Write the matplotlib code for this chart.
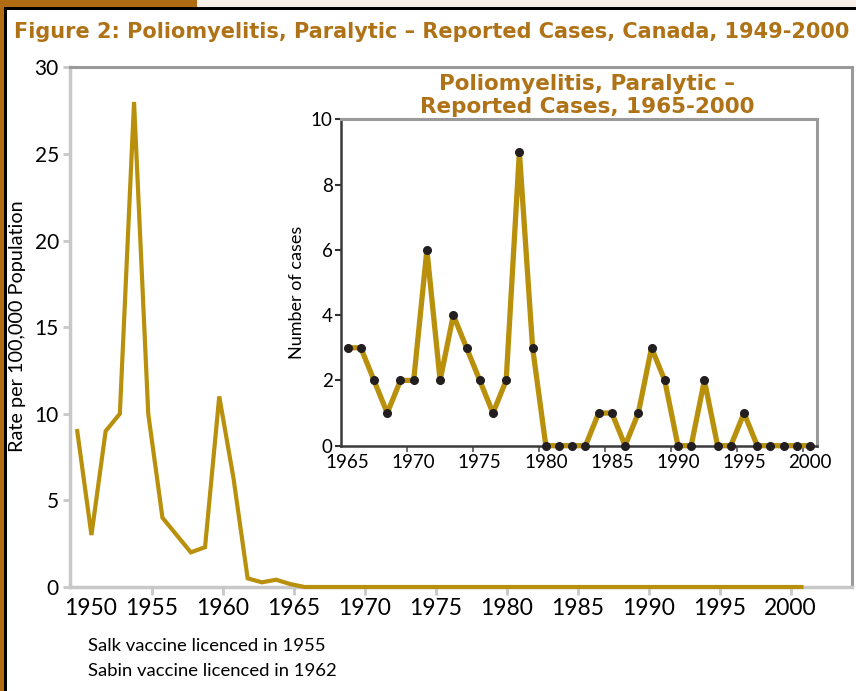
import matplotlib
matplotlib.use("Agg")
import matplotlib.pyplot as plt
from matplotlib.patches import Rectangle
import numpy as np

# ---------------- data ----------------
main_years = list(range(1949, 2001))
main_rate = [9, 3, 9, 10, 28, 10, 4, 3, 2, 2.3, 11, 6.3, 0.5, 0.27, 0.42, 0.17] + [0] * 36

inset_years = list(range(1965, 2001))
inset_cases = [3, 3, 2, 1, 2, 2, 6, 2, 4, 3, 2, 1, 2, 9, 3,
               0, 0, 0, 0, 1, 1, 0, 1, 3, 2, 0, 0, 2, 0, 0,
               1, 0, 0, 0, 0, 0]

main_tick_labels = [str(y) for y in range(1950, 2001, 5)]
inset_tick_labels = [str(y) for y in range(1965, 2001, 5)]
main_yticks = [0, 5, 10, 15, 20, 25, 30]
inset_yticks = [0, 2, 4, 6, 8, 10]

title = "Figure 2: Poliomyelitis, Paralytic \u2013 Reported Cases, Canada, 1949-2000"
inset_title = "Poliomyelitis, Paralytic \u2013\nReported Cases, 1965-2000"
notes = ["Salk vaccine licenced in 1955", "Sabin vaccine licenced in 1962"]

# ---------------- style ----------------
FONT = "Lato"
BOLD_FONT = ["DejaVu Sans"]
plt.rcParams["font.family"] = [FONT, "DejaVu Sans"]
BROWN = "#b06c12"
TITLE_C = "#b07216"
LINE_C = "#b8900b"
BEIGE = "#f8f0e8"

W, H = 856, 691
fig = plt.figure(figsize=(W / 100, H / 100), dpi=100)
fig.patch.set_facecolor("white")

def fx(px):
    return px / W

def fy(py):
    return 1 - py / H

# decorative frame
fig.add_artist(Rectangle((0, fy(7)), 1, 7 / H, transform=fig.transFigure, color=BEIGE, lw=0))
fig.add_artist(Rectangle((0, fy(7)), fx(197), 7 / H, transform=fig.transFigure, color=BROWN, lw=0))
fig.add_artist(Rectangle((0, 0), fx(4), 1, transform=fig.transFigure, color=BROWN, lw=0))
fig.add_artist(Rectangle((fx(4), 0), fx(3), fy(7), transform=fig.transFigure, color="black", lw=0))
fig.add_artist(Rectangle((fx(4), fy(10)), 1, 3 / H, transform=fig.transFigure, color="black", lw=0))

# title
fig.text(fx(14), fy(38), title, fontsize=15, fontweight="bold", color=TITLE_C,
         family=BOLD_FONT, ha="left", va="baseline")

# ---------------- main axes ----------------
L, R, T, B = 70, 852, 67.3, 587
ax = fig.add_axes([fx(L), fy(B), fx(R - L), (B - T) / H])
ax.plot(main_years, main_rate, color=LINE_C, lw=3.0, solid_joinstyle="miter", zorder=3,
        clip_on=False)
ax.set_xlim(1948.49, 2003.56)
ax.set_ylim(0, 30)

shift = 0.77
tick_pos = [int(s) - shift for s in main_tick_labels]
tick_pos[0] = 1949.96
ax.set_xticks(tick_pos)
ax.set_xticklabels(main_tick_labels)
ax.set_yticks(main_yticks)
ax.set_yticklabels([str(v) for v in main_yticks])
ax.tick_params(axis="x", colors="#c8c8c8", labelcolor="black", labelsize=16.5,
               length=6, width=2, pad=2)
ax.tick_params(axis="y", colors="#c8c8c8", labelcolor="black", labelsize=15,
               length=5, width=2, pad=3)
ax.xaxis.get_major_ticks()[0].tick1line.set_visible(False)
for s in ["left", "bottom"]:
    ax.spines[s].set_color("#c8c8c8")
    ax.spines[s].set_linewidth(2.5)
for s in ["top", "right"]:
    ax.spines[s].set_color("#9a9a9a")
    ax.spines[s].set_linewidth(2.2)
ax.set_ylabel("Rate per 100,000 Population", fontsize=14.3, va="center")
ax.yaxis.set_label_coords((18 - L) / (R - L), (B - 326) / (B - T))

# notes
fig.text(fx(88), fy(650.7), notes[0], fontsize=13.3, ha="left", va="baseline")
fig.text(fx(88), fy(676), notes[1], fontsize=13.3, ha="left", va="baseline")

# ---------------- inset ----------------
iL, iR, iT, iB = 341, 816.7, 119.3, 445.7
ax2 = fig.add_axes([fx(iL), fy(iB), fx(iR - iL), (iB - iT) / H])
ax2.plot(inset_years, inset_cases, color=LINE_C, lw=3.8, solid_joinstyle="round",
         zorder=3, clip_on=False)
ax2.plot(inset_years, inset_cases, ls="none", marker="o", ms=5.5, color="#231f20",
         zorder=4, clip_on=False)
ax2.set_xlim(1964.5, 2000.5)
ax2.set_ylim(0, 10)
ax2.set_yticks(inset_yticks)
ax2.set_yticklabels([str(v) for v in inset_yticks])
ax2.set_xticks([int(s) - 0.5 for s in inset_tick_labels[1:]])
ax2.set_xticklabels([])
ax2.set_xticks([int(s) for s in inset_tick_labels], minor=True)
ax2.set_xticklabels(inset_tick_labels, minor=True)
ax2.tick_params(axis="x", which="major", colors="#555555", length=4, width=1.2)
ax2.tick_params(axis="x", which="minor", length=0, labelsize=13.5, pad=6)
ax2.tick_params(axis="y", colors="#333333", labelcolor="black", labelsize=13.5,
                length=4, width=1.5, pad=2)
for s in ["left", "bottom"]:
    ax2.spines[s].set_color("#3a3a3a")
    ax2.spines[s].set_linewidth(1.8)
for s in ["top", "right"]:
    ax2.spines[s].set_color("#9a9a9a")
    ax2.spines[s].set_linewidth(2.2)
ax2.set_ylabel("Number of cases", fontsize=13, va="center")
ax2.yaxis.set_label_coords((297 - iL) / (iR - iL), (iB - 292) / (iB - iT))
ax2.patch.set_facecolor("white")

fig.text(fx(587), fy(90), inset_title.split("\n")[0], fontsize=15.5, fontweight="bold",
         family=BOLD_FONT, color=TITLE_C, ha="center", va="baseline")
fig.text(fx(587), fy(113.3), inset_title.split("\n")[1], fontsize=15.5, fontweight="bold",
         family=BOLD_FONT, color=TITLE_C, ha="center", va="baseline")

fig.savefig("out.png", dpi=100)
